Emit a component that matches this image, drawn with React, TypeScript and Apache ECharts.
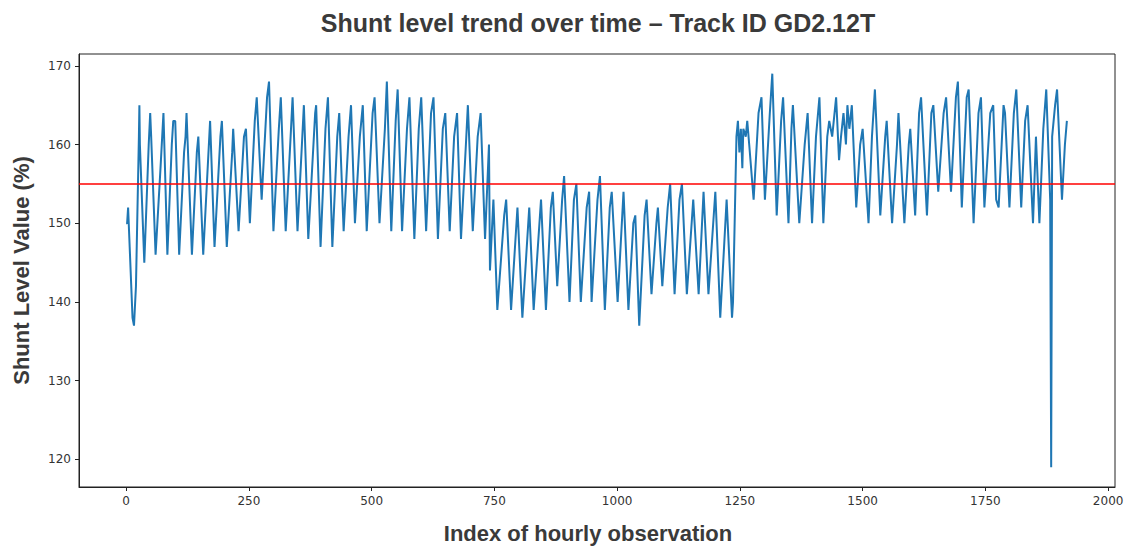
import React, { useEffect, useRef } from "react";
import * as echarts from "echarts";

const chartTitle = "Shunt level trend over time – Track ID GD2.12T";
const xAxisTitle = "Index of hourly observation";
const yAxisTitle = "Shunt Level Value (%)";
const threshold = 155;
const xTicks = [0, 250, 500, 750, 1000, 1250, 1500, 1750, 2000];
const yTicks = [120, 130, 140, 150, 160, 170];

// Vertices (peaks, shoulders and troughs)
const obsIndex = [
  0, 2, 4, 13, 16, 20, 26, 27, 28, 37, 46, 49, 51, 60, 70, 76, 84, 93, 96, 100,
  108, 118, 121, 123, 134, 144, 147, 157, 171, 180, 192, 195, 205, 216, 218, 229, 240, 244,
  252, 262, 266, 276, 287, 291, 300, 311, 315, 325, 335, 339, 349, 358, 362, 371,
  385, 387, 396, 406, 411, 420, 430, 434, 443, 453, 458, 466, 476, 482, 490,
  502, 506, 516, 527, 531, 540, 549, 553, 562, 572, 577, 587, 596, 601, 611,
  621, 626, 635, 645, 650, 659, 668, 674, 682, 692, 696, 706, 716, 722, 731,
  739, 741, 748, 756, 770, 774, 784, 797, 807, 821, 830, 845, 855, 865, 869,
  878, 888, 892, 903, 912, 917, 926, 938, 943, 948, 960, 965, 975, 985, 989,
  1001, 1013, 1023, 1033, 1037, 1045, 1056, 1060, 1070, 1080, 1083, 1092, 1103, 1108,
  1117, 1127, 1132, 1142, 1155, 1166, 1176, 1186, 1200, 1210, 1223, 1234, 1236,
  1243, 1246, 1249, 1252, 1255, 1257, 1262, 1265, 1269, 1278, 1288, 1294, 1301,
  1311, 1316, 1325, 1334, 1338, 1349, 1355, 1358, 1371, 1382, 1388, 1397, 1405,
  1412, 1420, 1428, 1432, 1438, 1446, 1452, 1456, 1461, 1466, 1469, 1473, 1478,
  1487, 1495, 1500, 1512, 1519, 1525, 1536, 1546, 1549, 1560, 1570, 1573, 1585,
  1594, 1597, 1607, 1615, 1619, 1631, 1640, 1644, 1654, 1665, 1670, 1680, 1690,
  1694, 1702, 1712, 1716, 1726, 1736, 1741, 1748, 1760, 1766, 1772, 1777, 1787,
  1790, 1799, 1808, 1813, 1823, 1831, 1836, 1847, 1853, 1860, 1868, 1874, 1882,
  1884, 1886, 1892, 1896, 1906, 1912, 1916,
];

const shuntLevel = [
  150, 150, 152, 138, 137, 142, 161, 165, 160, 145, 160, 164, 161, 146, 157, 164, 146, 160, 163, 163,
  146, 159, 161, 164, 146, 159, 161, 146, 163, 147, 161, 163, 147, 159, 162, 149, 161, 162,
  150, 163, 166, 153, 166, 168, 149, 162, 166, 149, 161, 166, 149, 160, 165, 148,
  164, 165, 147, 162, 166, 147, 161, 164, 149, 161, 165, 150, 161, 165, 149,
  164, 166, 150, 162, 168, 149, 163, 167, 149, 162, 166, 148, 162, 166, 149,
  164, 166, 148, 162, 164, 149, 161, 164, 148, 160, 165, 149, 161, 164, 148,
  160, 144, 153, 139, 151, 153, 139, 152, 138, 152, 139, 153, 139, 152, 154,
  142, 153, 156, 140, 153, 155, 140, 152, 154, 140, 153, 156, 139, 152, 154,
  140, 154, 139, 150, 151, 137, 151, 153, 141, 150, 152, 142, 152, 155,
  141, 153, 155, 141, 153, 141, 154, 141, 154, 138, 153, 138, 140,
  161, 163, 159, 162, 157, 162, 161, 163, 160, 153, 164, 166, 153,
  164, 169, 151, 163, 166, 150, 162, 165, 150, 160, 164, 150, 161,
  166, 150, 161, 163, 161, 166, 158, 161, 164, 160, 165, 162, 165,
  152, 160, 162, 150, 161, 167, 151, 161, 163, 150, 160, 164, 150,
  160, 162, 151, 164, 166, 151, 164, 165, 154, 164, 166, 154, 166,
  168, 152, 166, 167, 150, 164, 166, 152, 164, 165, 153, 152, 165,
  164, 152, 164, 167, 152, 163, 165, 150, 161, 150, 162, 167, 153,
  119, 161, 165, 167, 153, 160, 163,
];

const textColor = "#3a3a3a";

export default function App() {
  const ref = useRef<HTMLDivElement>(null);

  useEffect(() => {
    if (!ref.current) return;
    const chart = echarts.init(ref.current, null, { renderer: "svg" });
    const data = obsIndex.map((x, i) => [x, shuntLevel[i]]);
    chart.setOption({
      animation: false,
      backgroundColor: "#ffffff",
      title: {
        text: chartTitle,
        left: 593,
        textAlign: "center",
        top: 5,
        textStyle: {
          fontFamily: "Liberation Sans",
          fontSize: 25,
          fontWeight: "bold",
          color: textColor,
        },
      },
      grid: {
        left: 79,
        right: 14,
        top: 54,
        bottom: 60,
        outerBoundsMode: "none",
        containLabel: false,
        show: true,
        borderColor: "#222",
        borderWidth: 1,
        backgroundColor: "transparent",
      },
      xAxis: {
        type: "value",
        min: -96,
        max: 2014,
        name: xAxisTitle,
        nameLocation: "middle",
        nameGap: 35,
        nameTextStyle: {
          fontFamily: "Liberation Sans",
          fontSize: 22,
          fontWeight: "bold",
          color: textColor,
          padding: [0, 18, 0, 0],
        },
        axisLine: { show: true, onZero: false, lineStyle: { color: "#222", width: 1 } },
        axisTick: { show: true, length: 4, customValues: xTicks, lineStyle: { color: "#222" } },
        axisLabel: {
          customValues: xTicks,
          formatter: (v: number) => String(v),
          margin: 8,
          fontFamily: "DejaVu Sans",
          fontSize: 12,
          color: "#333",
        },
        splitLine: { show: false },
      },
      yAxis: {
        type: "value",
        min: 116.5,
        max: 171.5,
        name: yAxisTitle,
        nameLocation: "middle",
        nameGap: 47,
        nameTextStyle: {
          fontFamily: "Liberation Sans",
          fontSize: 22,
          fontWeight: "bold",
          color: textColor,
        },
        axisLine: { show: true, onZero: false, lineStyle: { color: "#222", width: 1 } },
        axisTick: { show: true, length: 4, customValues: yTicks, lineStyle: { color: "#222" } },
        axisLabel: {
          customValues: yTicks,
          formatter: (v: number) => String(v),
          margin: 8,
          fontFamily: "DejaVu Sans",
          fontSize: 12,
          color: "#333",
        },
        splitLine: { show: false },
      },
      series: [
        {
          type: "line",
          data,
          showSymbol: false,
          symbol: "none",
          lineStyle: { color: "#1f77b4", width: 2 },
          markLine: {
            silent: true,
            symbol: ["none", "none"],
            label: { show: false },
            lineStyle: { color: "#ff0000", width: 1.5, type: "solid" },
            data: [{ yAxis: threshold }],
          },
          z: 2,
        },
      ],
    });
    return () => chart.dispose();
  }, []);

  return (
    <div
      ref={ref}
      style={{ position: "fixed", left: 0, top: 0, width: 1129, height: 547 }}
    />
  );
}
